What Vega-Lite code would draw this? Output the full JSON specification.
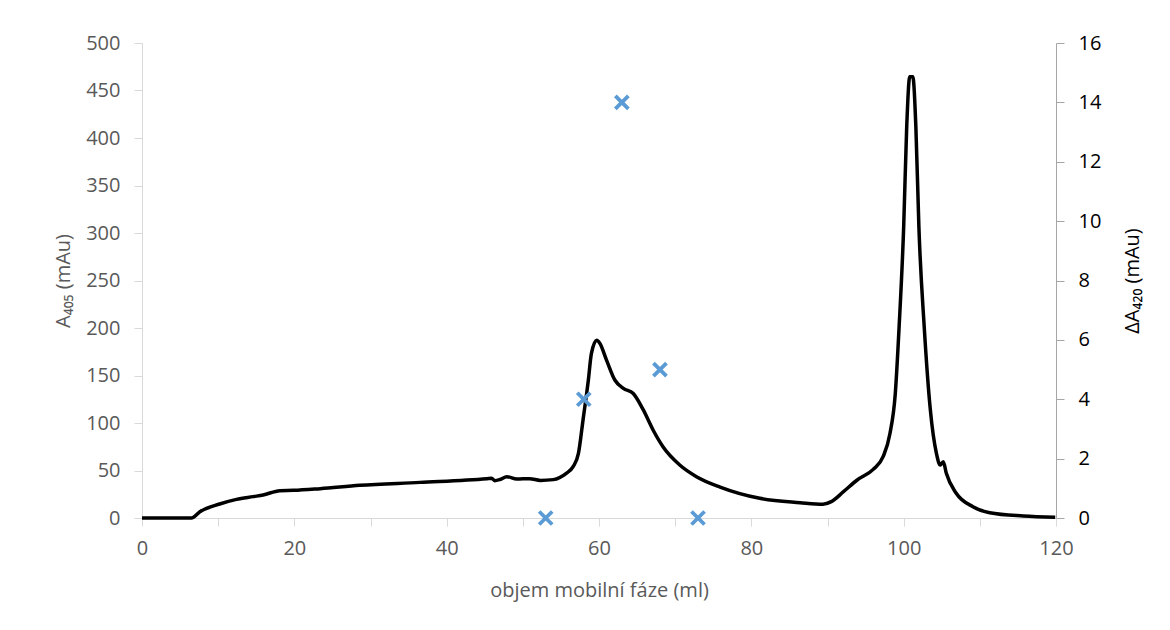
{
  "$schema": "https://vega.github.io/schema/vega-lite/v6.json",
  "width": 914,
  "height": 475,
  "autosize": {"type": "none"},
  "padding": {"left": 142, "top": 43, "right": 114, "bottom": 112},
  "background": "white",
  "config": {
    "view": {"stroke": null},
    "font": "Open Sans",
    "axis": {"grid": false, "labelFont": "Open Sans", "titleFont": "Open Sans", "titleFontWeight": "normal", "labelFontSize": 20, "titleFontSize": 20, "labelFlush": false}
  },
  "datasets": {
    "chrom": [
      {"v": 0, "a405": 0}, {"v": 6.5, "a405": 0}, {"v": 7.6, "a405": 6.6}, {"v": 10.2, "a405": 14.7},
      {"v": 12.4, "a405": 19.6}, {"v": 14.6, "a405": 22.5}, {"v": 15.9, "a405": 24.2}, {"v": 18.1, "a405": 28.8},
      {"v": 19.9, "a405": 29.1}, {"v": 23.4, "a405": 30.9}, {"v": 28.6, "a405": 34.4}, {"v": 36.5, "a405": 37.5},
      {"v": 45.3, "a405": 41.4}, {"v": 45.9, "a405": 41.8}, {"v": 46.3, "a405": 39.3}, {"v": 47.0, "a405": 40.5},
      {"v": 47.9, "a405": 43.5}, {"v": 49.2, "a405": 41}, {"v": 50.9, "a405": 41.4}, {"v": 52.3, "a405": 39.6},
      {"v": 54.0, "a405": 40.4}, {"v": 55.7, "a405": 47}, {"v": 56.6, "a405": 54}, {"v": 57.3, "a405": 68},
      {"v": 57.9, "a405": 103}, {"v": 58.6, "a405": 145}, {"v": 59.0, "a405": 173}, {"v": 59.7, "a405": 187},
      {"v": 60.1, "a405": 184}, {"v": 61.0, "a405": 166}, {"v": 62.1, "a405": 145}, {"v": 63.2, "a405": 136.5},
      {"v": 64.5, "a405": 131}, {"v": 65.8, "a405": 114}, {"v": 67.1, "a405": 92.6}, {"v": 68.4, "a405": 75},
      {"v": 70.6, "a405": 55.8}, {"v": 72.8, "a405": 43.5}, {"v": 75.9, "a405": 32.5}, {"v": 81.1, "a405": 20.7},
      {"v": 86.4, "a405": 16.1}, {"v": 89.4, "a405": 14.4}, {"v": 90.5, "a405": 17.2}, {"v": 92.1, "a405": 27.7},
      {"v": 93.9, "a405": 40}, {"v": 96.0, "a405": 51.2}, {"v": 97.3, "a405": 64.5}, {"v": 98.2, "a405": 89},
      {"v": 98.9, "a405": 131}, {"v": 99.4, "a405": 201}, {"v": 100.0, "a405": 306}, {"v": 100.4, "a405": 412},
      {"v": 100.8, "a405": 464.5}, {"v": 101.2, "a405": 464.5}, {"v": 101.6, "a405": 412}, {"v": 102.0, "a405": 306},
      {"v": 102.7, "a405": 201}, {"v": 103.5, "a405": 114}, {"v": 104.3, "a405": 68}, {"v": 104.8, "a405": 55.8},
      {"v": 105.2, "a405": 59.3}, {"v": 105.6, "a405": 47}, {"v": 106.9, "a405": 26}, {"v": 109.1, "a405": 11.9},
      {"v": 111.3, "a405": 5.6}, {"v": 115.7, "a405": 2.1}, {"v": 119.9, "a405": 0.7}
    ],
    "delta": [
      {"v": 53, "da420": 0}, {"v": 58, "da420": 4}, {"v": 63, "da420": 14}, {"v": 68, "da420": 5}, {"v": 73, "da420": 0}
    ]
  },
  "layer": [
    {
      "data": {"name": "chrom"},
      "mark": {"type": "line", "interpolate": "monotone", "color": "black", "strokeWidth": 3.5},
      "encoding": {
        "x": {
          "field": "v", "type": "quantitative",
          "scale": {"domain": [0, 120], "nice": false, "zero": false},
          "axis": {
            "title": "objem mobilní fáze (ml)",
            "values": [0, 10, 20, 30, 40, 50, 60, 70, 80, 90, 100, 110, 120],
            "labelExpr": "datum.value % 20 === 0 ? datum.label : ''",
            "domainColor": "#d9d9d9", "tickColor": "#d9d9d9", "tickSize": 8,
            "labelPadding": 12, "labelColor": "#595959", "titleColor": "#595959", "titlePadding": 22
          }
        },
        "y": {
          "field": "a405", "type": "quantitative",
          "scale": {"domain": [0, 500], "nice": false},
          "axis": {
            "title": "A₄₀₅ (mAu)", "orient": "left",
            "values": [0, 50, 100, 150, 200, 250, 300, 350, 400, 450, 500],
            "domainColor": "#d9d9d9", "tickColor": "#d9d9d9", "tickSize": 8,
            "labelPadding": 14, "labelColor": "#595959", "titleColor": "#595959", "titlePadding": 12
          }
        }
      }
    },
    {
      "data": {"name": "delta"},
      "mark": {"type": "point", "shape": "M-1,-1L1,1M-1,1L1,-1", "stroke": "#5b9bd5", "strokeWidth": 3.8, "size": 170, "filled": false, "opacity": 1},
      "encoding": {
        "x": {"field": "v", "type": "quantitative", "scale": {"domain": [0, 120], "nice": false, "zero": false}},
        "y": {
          "field": "da420", "type": "quantitative",
          "scale": {"domain": [0, 16], "nice": false},
          "axis": {
            "title": "ΔA₄₂₀ (mAu)", "orient": "right", "titleAngle": 270,
            "values": [0, 2, 4, 6, 8, 10, 12, 14, 16],
            "domainColor": "#a6a6a6", "tickColor": "#a6a6a6", "tickSize": 8,
            "labelPadding": 14, "labelColor": "#000000", "titleColor": "#000000", "titlePadding": 42
          }
        }
      }
    }
  ],
  "resolve": {"scale": {"y": "independent"}}
}
